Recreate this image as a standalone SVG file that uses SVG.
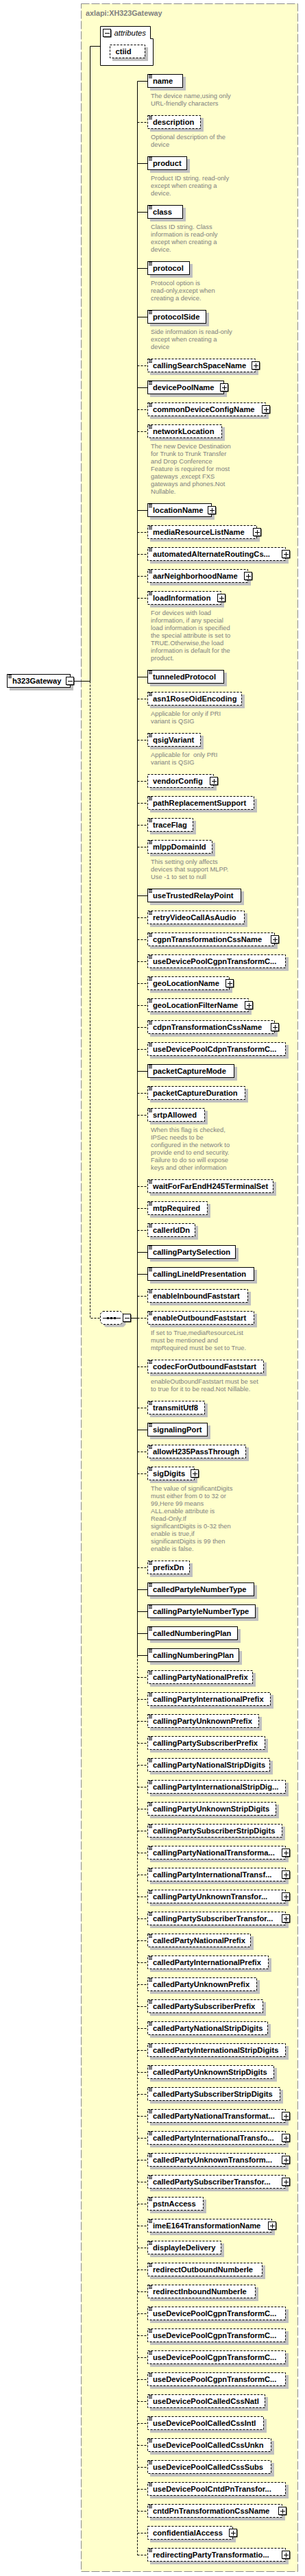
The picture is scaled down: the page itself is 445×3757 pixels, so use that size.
<svg xmlns="http://www.w3.org/2000/svg" xmlns:xlink="http://www.w3.org/1999/xlink" width="445" height="3757" viewBox="0 0 445 3757">
<style>
.s{fill:#c0c0c0}
.b{fill:#fff;stroke:#000;stroke-width:1}
.o{stroke-dasharray:3,2}
.t{font-family:"Liberation Sans",Arial,sans-serif;font-weight:bold;font-size:11.2px;fill:#000}
.d{font-family:"Liberation Sans",Arial,sans-serif;font-size:9.4px;fill:#808080}
.c{fill:none;stroke:#000;stroke-width:1}
.cd{fill:none;stroke:#000;stroke-width:1;stroke-dasharray:3,2}
</style>
<defs>
<g id="i"><path d="M2 1.5h5M2 3.5h5M2 5.5h5" stroke="#000" stroke-width="1"/></g>
<g id="p"><rect x="-4.5" y="-4.5" width="11" height="11" fill="#000"/><rect x="-5.5" y="-5.5" width="11" height="11" fill="#fff" stroke="#000"/><path d="M-3 0.5h7M0.5 -3v7" stroke="#000"/></g>
<g id="m"><rect x="-4.5" y="-4.5" width="11" height="11" fill="#000"/><rect x="-5.5" y="-5.5" width="11" height="11" fill="#fff" stroke="#000"/><path d="M-3 0.5h7" stroke="#000"/></g>
</defs>
<g id="frame">
<rect x="118.5" y="5.5" width="316" height="3745" fill="#ffffcc" stroke="#8c8c8c" stroke-width="1" stroke-dasharray="12,3"/>
<text x="125" y="22.5" font-family="Liberation Sans,Arial,sans-serif" font-weight="bold" font-size="10.8" fill="#808080">axlapi:XH323Gateway</text>
</g>
<g id="connectors">
<path class="c" d="M108 993.5H131.5M131.5 67.5V993.5M131.5 67.5H146"/>
<path class="cd" d="M131.5 993.5V1922.5H146"/>
<path class="c" d="M191 1922.5H200.5M200.5 118.5V2414.5"/>
<path class="cd" d="M200.5 2414.5V3726.5"/>
<path class="c" d="M200.5 118.5H215M200.5 238.5H215M200.5 309.5H215M200.5 391.5H215M200.5 462.5H215M200.5 565.5H215M200.5 744.5H215M200.5 987.5H215M200.5 1306.5H215M200.5 1562.5H215M200.5 1826.5H215M200.5 1858.5H215M200.5 2085.5H215M200.5 2318.5H215M200.5 2350.5H215M200.5 2382.5H215M200.5 2414.5H215"/>
<path class="cd" d="M200.5 178.5H215M200.5 533.5H215M200.5 597.5H215M200.5 629.5H215M200.5 776.5H215M200.5 808.5H215M200.5 840.5H215M200.5 872.5H215M200.5 1019.5H215M200.5 1079.5H215M200.5 1139.5H215M200.5 1171.5H215M200.5 1203.5H215M200.5 1235.5H215M200.5 1338.5H215M200.5 1370.5H215M200.5 1402.5H215M200.5 1434.5H215M200.5 1466.5H215M200.5 1498.5H215M200.5 1530.5H215M200.5 1594.5H215M200.5 1626.5H215M200.5 1730.5H215M200.5 1762.5H215M200.5 1794.5H215M200.5 1890.5H215M200.5 1922.5H215M200.5 1993.5H215M200.5 2053.5H215M200.5 2117.5H215M200.5 2149.5H215M200.5 2286.5H215M200.5 2446.5H215M200.5 2478.5H215M200.5 2510.5H215M200.5 2542.5H215M200.5 2574.5H215M200.5 2606.5H215M200.5 2638.5H215M200.5 2670.5H215M200.5 2702.5H215M200.5 2734.5H215M200.5 2766.5H215M200.5 2798.5H215M200.5 2830.5H215M200.5 2862.5H215M200.5 2894.5H215M200.5 2926.5H215M200.5 2958.5H215M200.5 2990.5H215M200.5 3022.5H215M200.5 3054.5H215M200.5 3086.5H215M200.5 3118.5H215M200.5 3150.5H215M200.5 3182.5H215M200.5 3214.5H215M200.5 3246.5H215M200.5 3278.5H215M200.5 3310.5H215M200.5 3342.5H215M200.5 3374.5H215M200.5 3406.5H215M200.5 3438.5H215M200.5 3470.5H215M200.5 3502.5H215M200.5 3534.5H215M200.5 3566.5H215M200.5 3598.5H215M200.5 3630.5H215M200.5 3662.5H215M200.5 3694.5H215M200.5 3726.5H215"/>
</g>
<g id="h323Gateway"><rect class="s" x="14" y="987" width="93" height="20"/><rect class="b" x="10.5" y="983.5" width="92" height="19"/><use href="#i" x="10" y="983"/><text class="t" x="18" y="997">h323Gateway</text><use href="#m" x="102" y="993"/></g>
<g id="attributes"><path d="M146.5 38.5H219.5V56.5H223.5V95.5H146.5Z" fill="#fff" stroke="#000"/><use href="#m" x="156" y="48"/><text x="166.5" y="51.5" font-family="Liberation Sans,Arial,sans-serif" font-style="italic" font-size="11.3" fill="#000">attributes</text>
<g id="ctiid"><rect class="s" x="164" y="69" width="52" height="20"/><rect class="b o" x="160.5" y="65.5" width="51" height="19"/><text class="t" x="168.5" y="79">ctiid</text></g></g>
<g id="sequence"><path d="M154 1916.5H180L183.5 1920V1932L180 1935.5H154L150.5 1932V1920Z" fill="#c0c0c0"/><path d="M150 1912.5H176L179.5 1916V1928L176 1931.5H150L146.5 1928V1916Z" fill="#fff" stroke="#000" stroke-dasharray="3,2"/><path d="M150 1922.5H176" stroke="#000"/><rect x="156" y="1921" width="3" height="3"/><rect x="161" y="1921" width="3" height="3"/><rect x="166" y="1921" width="3" height="3"/><use href="#m" x="185" y="1922"/></g>
<g id="n-name"><rect class="s" x="219" y="112" width="52" height="20"/><rect class="b" x="215.5" y="108.5" width="51" height="19"/><use href="#i" x="215" y="108"/><text class="t" x="223" y="122">name</text><text class="d"><tspan x="220" y="142.5">The device name,using only</tspan><tspan x="220" y="153.5">URL-friendly characters</tspan></text></g>
<g id="n-description"><rect class="s" x="219" y="172" width="78" height="20"/><rect class="b o" x="215.5" y="168.5" width="77" height="19"/><use href="#i" x="215" y="168"/><text class="t" x="223" y="182">description</text><text class="d"><tspan x="220" y="202.5">Optional description of the</tspan><tspan x="220" y="213.5">device</tspan></text></g>
<g id="n-product"><rect class="s" x="219" y="232" width="58" height="20"/><rect class="b" x="215.5" y="228.5" width="57" height="19"/><use href="#i" x="215" y="228"/><text class="t" x="223" y="242">product</text><text class="d"><tspan x="220" y="262.5">Product ID string. read-only</tspan><tspan x="220" y="273.5">except when creating a</tspan><tspan x="220" y="284.5">device.</tspan></text></g>
<g id="n-class"><rect class="s" x="219" y="303" width="52" height="20"/><rect class="b" x="215.5" y="299.5" width="51" height="19"/><use href="#i" x="215" y="299"/><text class="t" x="223" y="313">class</text><text class="d"><tspan x="220" y="333.5">Class ID string. Class</tspan><tspan x="220" y="344.5">information is read-only</tspan><tspan x="220" y="355.5">except when creating a</tspan><tspan x="220" y="366.5">device.</tspan></text></g>
<g id="n-protocol"><rect class="s" x="219" y="385" width="62" height="20"/><rect class="b" x="215.5" y="381.5" width="61" height="19"/><use href="#i" x="215" y="381"/><text class="t" x="223" y="395">protocol</text><text class="d"><tspan x="220" y="415.5">Protocol option is</tspan><tspan x="220" y="426.5">read-only,except when</tspan><tspan x="220" y="437.5">creating a device.</tspan></text></g>
<g id="n-protocolSide"><rect class="s" x="219" y="456" width="86" height="20"/><rect class="b" x="215.5" y="452.5" width="85" height="19"/><use href="#i" x="215" y="452"/><text class="t" x="223" y="466">protocolSide</text><text class="d"><tspan x="220" y="486.5">Side information is read-only</tspan><tspan x="220" y="497.5">except when creating a</tspan><tspan x="220" y="508.5">device</tspan></text></g>
<g id="n-callingSearchSpaceName"><rect class="s" x="219" y="527" width="158" height="20"/><rect class="b o" x="215.5" y="523.5" width="157" height="19"/><use href="#i" x="215" y="523"/><text class="t" x="223" y="537">callingSearchSpaceName</text><use href="#p" x="373" y="533"/></g>
<g id="n-devicePoolName"><rect class="s" x="219" y="559" width="112" height="20"/><rect class="b" x="215.5" y="555.5" width="111" height="19"/><use href="#i" x="215" y="555"/><text class="t" x="223" y="569">devicePoolName</text><use href="#p" x="327" y="565"/></g>
<g id="n-commonDeviceConfigName"><rect class="s" x="219" y="591" width="173" height="20"/><rect class="b o" x="215.5" y="587.5" width="172" height="19"/><use href="#i" x="215" y="587"/><text class="t" x="223" y="601">commonDeviceConfigName</text><use href="#p" x="388" y="597"/></g>
<g id="n-networkLocation"><rect class="s" x="219" y="623" width="109" height="20"/><rect class="b o" x="215.5" y="619.5" width="108" height="19"/><use href="#i" x="215" y="619"/><text class="t" x="223" y="633">networkLocation</text><text class="d"><tspan x="220" y="653.5">The new Device Destination</tspan><tspan x="220" y="664.5">for Trunk to Trunk Transfer</tspan><tspan x="220" y="675.5">and Drop Conference</tspan><tspan x="220" y="686.5">Feature is required for most</tspan><tspan x="220" y="697.5">gateways ,except FXS</tspan><tspan x="220" y="708.5">gateways and phones.Not</tspan><tspan x="220" y="719.5">Nullable.</tspan></text></g>
<g id="n-locationName"><rect class="s" x="219" y="738" width="94" height="20"/><rect class="b" x="215.5" y="734.5" width="93" height="19"/><use href="#i" x="215" y="734"/><text class="t" x="223" y="748">locationName</text><use href="#p" x="309" y="744"/></g>
<g id="n-mediaResourceListName"><rect class="s" x="219" y="770" width="160" height="20"/><rect class="b o" x="215.5" y="766.5" width="159" height="19"/><use href="#i" x="215" y="766"/><text class="t" x="223" y="780">mediaResourceListName</text><use href="#p" x="375" y="776"/></g>
<g id="n-automatedAlternateRoutingCs"><rect class="s" x="219" y="802" width="202" height="20"/><rect class="b o" x="215.5" y="798.5" width="201" height="19"/><use href="#i" x="215" y="798"/><text class="t" x="223" y="812">automatedAlternateRoutingCs...</text><use href="#p" x="417" y="808"/></g>
<g id="n-aarNeighborhoodName"><rect class="s" x="219" y="834" width="147" height="20"/><rect class="b o" x="215.5" y="830.5" width="146" height="19"/><use href="#i" x="215" y="830"/><text class="t" x="223" y="844">aarNeighborhoodName</text><use href="#p" x="362" y="840"/></g>
<g id="n-loadInformation"><rect class="s" x="219" y="866" width="108" height="20"/><rect class="b o" x="215.5" y="862.5" width="107" height="19"/><use href="#i" x="215" y="862"/><text class="t" x="223" y="876">loadInformation</text><use href="#p" x="323" y="872"/><text class="d"><tspan x="220" y="896.5">For devices with load</tspan><tspan x="220" y="907.5">information, if any special</tspan><tspan x="220" y="918.5">load information is specified</tspan><tspan x="220" y="929.5">the special attribute is set to</tspan><tspan x="220" y="940.5">TRUE.Otherwise,the load</tspan><tspan x="220" y="951.5">information is default for the</tspan><tspan x="220" y="962.5">product.</tspan></text></g>
<g id="n-tunneledProtocol"><rect class="s" x="219" y="981" width="112" height="20"/><rect class="b" x="215.5" y="977.5" width="111" height="19"/><use href="#i" x="215" y="977"/><text class="t" x="223" y="991">tunneledProtocol</text></g>
<g id="n-asn1RoseOidEncoding"><rect class="s" x="219" y="1013" width="138" height="20"/><rect class="b o" x="215.5" y="1009.5" width="137" height="19"/><use href="#i" x="215" y="1009"/><text class="t" x="223" y="1023">asn1RoseOidEncoding</text><text class="d"><tspan x="220" y="1043.5">Applicable for only if PRI</tspan><tspan x="220" y="1054.5">variant is QSIG</tspan></text></g>
<g id="n-qsigVariant"><rect class="s" x="219" y="1073" width="78" height="20"/><rect class="b o" x="215.5" y="1069.5" width="77" height="19"/><use href="#i" x="215" y="1069"/><text class="t" x="223" y="1083">qsigVariant</text><text class="d" style="white-space:pre"><tspan x="220" y="1103.5">Applicable for  only PRI</tspan><tspan x="220" y="1114.5">variant is QSIG</tspan></text></g>
<g id="n-vendorConfig"><rect class="s" x="219" y="1133" width="97" height="20"/><rect class="b o" x="215.5" y="1129.5" width="96" height="19"/><text class="t" x="223" y="1143">vendorConfig</text><use href="#p" x="312" y="1139"/></g>
<g id="n-pathReplacementSupport"><rect class="s" x="219" y="1165" width="156" height="20"/><rect class="b o" x="215.5" y="1161.5" width="155" height="19"/><use href="#i" x="215" y="1161"/><text class="t" x="223" y="1175">pathReplacementSupport</text></g>
<g id="n-traceFlag"><rect class="s" x="219" y="1197" width="67" height="20"/><rect class="b o" x="215.5" y="1193.5" width="66" height="19"/><use href="#i" x="215" y="1193"/><text class="t" x="223" y="1207">traceFlag</text></g>
<g id="n-mlppDomainId"><rect class="s" x="219" y="1229" width="95" height="20"/><rect class="b o" x="215.5" y="1225.5" width="94" height="19"/><use href="#i" x="215" y="1225"/><text class="t" x="223" y="1239">mlppDomainId</text><text class="d"><tspan x="220" y="1259.5">This setting only affects</tspan><tspan x="220" y="1270.5">devices that support MLPP.</tspan><tspan x="220" y="1281.5">Use -1 to set to null</tspan></text></g>
<g id="n-useTrustedRelayPoint"><rect class="s" x="219" y="1300" width="137" height="20"/><rect class="b" x="215.5" y="1296.5" width="136" height="19"/><use href="#i" x="215" y="1296"/><text class="t" x="223" y="1310">useTrustedRelayPoint</text></g>
<g id="n-retryVideoCallAsAudio"><rect class="s" x="219" y="1332" width="142" height="20"/><rect class="b o" x="215.5" y="1328.5" width="141" height="19"/><use href="#i" x="215" y="1328"/><text class="t" x="223" y="1342">retryVideoCallAsAudio</text></g>
<g id="n-cgpnTransformationCssName"><rect class="s" x="219" y="1364" width="186" height="20"/><rect class="b o" x="215.5" y="1360.5" width="185" height="19"/><use href="#i" x="215" y="1360"/><text class="t" x="223" y="1374">cgpnTransformationCssName</text><use href="#p" x="401" y="1370"/></g>
<g id="n-useDevicePoolCgpnTransformC-a"><rect class="s" x="219" y="1396" width="202" height="20"/><rect class="b o" x="215.5" y="1392.5" width="201" height="19"/><use href="#i" x="215" y="1392"/><text class="t" x="223" y="1406">useDevicePoolCgpnTransformC...</text></g>
<g id="n-geoLocationName"><rect class="s" x="219" y="1428" width="120" height="20"/><rect class="b o" x="215.5" y="1424.5" width="119" height="19"/><use href="#i" x="215" y="1424"/><text class="t" x="223" y="1438">geoLocationName</text><use href="#p" x="335" y="1434"/></g>
<g id="n-geoLocationFilterName"><rect class="s" x="219" y="1460" width="148" height="20"/><rect class="b o" x="215.5" y="1456.5" width="147" height="19"/><use href="#i" x="215" y="1456"/><text class="t" x="223" y="1470">geoLocationFilterName</text><use href="#p" x="363" y="1466"/></g>
<g id="n-cdpnTransformationCssName"><rect class="s" x="219" y="1492" width="186" height="20"/><rect class="b o" x="215.5" y="1488.5" width="185" height="19"/><use href="#i" x="215" y="1488"/><text class="t" x="223" y="1502">cdpnTransformationCssName</text><use href="#p" x="401" y="1498"/></g>
<g id="n-useDevicePoolCdpnTransformC"><rect class="s" x="219" y="1524" width="202" height="20"/><rect class="b o" x="215.5" y="1520.5" width="201" height="19"/><use href="#i" x="215" y="1520"/><text class="t" x="223" y="1534">useDevicePoolCdpnTransformC...</text></g>
<g id="n-packetCaptureMode"><rect class="s" x="219" y="1556" width="127" height="20"/><rect class="b" x="215.5" y="1552.5" width="126" height="19"/><use href="#i" x="215" y="1552"/><text class="t" x="223" y="1566">packetCaptureMode</text></g>
<g id="n-packetCaptureDuration"><rect class="s" x="219" y="1588" width="143" height="20"/><rect class="b o" x="215.5" y="1584.5" width="142" height="19"/><use href="#i" x="215" y="1584"/><text class="t" x="223" y="1598">packetCaptureDuration</text></g>
<g id="n-srtpAllowed"><rect class="s" x="219" y="1620" width="84" height="20"/><rect class="b o" x="215.5" y="1616.5" width="83" height="19"/><use href="#i" x="215" y="1616"/><text class="t" x="223" y="1630">srtpAllowed</text><text class="d"><tspan x="220" y="1650.5">When this flag is checked,</tspan><tspan x="220" y="1661.5">IPSec needs to be</tspan><tspan x="220" y="1672.5">configured in the network to</tspan><tspan x="220" y="1683.5">provide end to end security.</tspan><tspan x="220" y="1694.5">Failure to do so will expose</tspan><tspan x="220" y="1705.5">keys and other information</tspan></text></g>
<g id="n-waitForFarEndH245TerminalSet"><rect class="s" x="219" y="1724" width="184" height="20"/><rect class="b o" x="215.5" y="1720.5" width="183" height="19"/><use href="#i" x="215" y="1720"/><text class="t" x="223" y="1734">waitForFarEndH245TerminalSet</text></g>
<g id="n-mtpRequired"><rect class="s" x="219" y="1756" width="88" height="20"/><rect class="b o" x="215.5" y="1752.5" width="87" height="19"/><use href="#i" x="215" y="1752"/><text class="t" x="223" y="1766">mtpRequired</text></g>
<g id="n-callerIdDn"><rect class="s" x="219" y="1788" width="70" height="20"/><rect class="b o" x="215.5" y="1784.5" width="69" height="19"/><use href="#i" x="215" y="1784"/><text class="t" x="223" y="1798">callerIdDn</text></g>
<g id="n-callingPartySelection"><rect class="s" x="219" y="1820" width="129" height="20"/><rect class="b" x="215.5" y="1816.5" width="128" height="19"/><use href="#i" x="215" y="1816"/><text class="t" x="223" y="1830">callingPartySelection</text></g>
<g id="n-callingLineIdPresentation"><rect class="s" x="219" y="1852" width="156" height="20"/><rect class="b" x="215.5" y="1848.5" width="155" height="19"/><use href="#i" x="215" y="1848"/><text class="t" x="223" y="1862">callingLineIdPresentation</text></g>
<g id="n-enableInboundFaststart"><rect class="s" x="219" y="1884" width="147" height="20"/><rect class="b o" x="215.5" y="1880.5" width="146" height="19"/><use href="#i" x="215" y="1880"/><text class="t" x="223" y="1894">enableInboundFaststart</text></g>
<g id="n-enableOutboundFaststart"><rect class="s" x="219" y="1916" width="156" height="20"/><rect class="b o" x="215.5" y="1912.5" width="155" height="19"/><use href="#i" x="215" y="1912"/><text class="t" x="223" y="1926">enableOutboundFaststart</text><text class="d"><tspan x="220" y="1946.5">If set to True,mediaResourceList</tspan><tspan x="220" y="1957.5">must be mentioned and</tspan><tspan x="220" y="1968.5">mtpRequired must be set to True.</tspan></text></g>
<g id="n-codecForOutboundFaststart"><rect class="s" x="219" y="1987" width="170" height="20"/><rect class="b o" x="215.5" y="1983.5" width="169" height="19"/><use href="#i" x="215" y="1983"/><text class="t" x="223" y="1997">codecForOutboundFaststart</text><text class="d"><tspan x="220" y="2017.5">enableOutboundFaststart must be set</tspan><tspan x="220" y="2028.5">to true for it to be read.Not Nillable.</tspan></text></g>
<g id="n-transmitUtf8"><rect class="s" x="219" y="2047" width="84" height="20"/><rect class="b o" x="215.5" y="2043.5" width="83" height="19"/><use href="#i" x="215" y="2043"/><text class="t" x="223" y="2057">transmitUtf8</text></g>
<g id="n-signalingPort"><rect class="s" x="219" y="2079" width="88" height="20"/><rect class="b" x="215.5" y="2075.5" width="87" height="19"/><use href="#i" x="215" y="2075"/><text class="t" x="223" y="2089">signalingPort</text></g>
<g id="n-allowH235PassThrough"><rect class="s" x="219" y="2111" width="144" height="20"/><rect class="b o" x="215.5" y="2107.5" width="143" height="19"/><use href="#i" x="215" y="2107"/><text class="t" x="223" y="2121">allowH235PassThrough</text></g>
<g id="n-sigDigits"><rect class="s" x="219" y="2143" width="69" height="20"/><rect class="b o" x="215.5" y="2139.5" width="68" height="19"/><use href="#i" x="215" y="2139"/><text class="t" x="223" y="2153">sigDigits</text><use href="#p" x="284" y="2149"/><text class="d"><tspan x="220" y="2173.5">The value of significantDigits</tspan><tspan x="220" y="2184.5">must either from 0 to 32 or</tspan><tspan x="220" y="2195.5">99,Here 99 means</tspan><tspan x="220" y="2206.5">ALL.enable attribute is</tspan><tspan x="220" y="2217.5">Read-Only.If</tspan><tspan x="220" y="2228.5">significantDigits is 0-32 then</tspan><tspan x="220" y="2239.5">enable is true,if</tspan><tspan x="220" y="2250.5">significantDigits is 99 then</tspan><tspan x="220" y="2261.5">enable is false.</tspan></text></g>
<g id="n-prefixDn"><rect class="s" x="219" y="2280" width="62" height="20"/><rect class="b o" x="215.5" y="2276.5" width="61" height="19"/><use href="#i" x="215" y="2276"/><text class="t" x="223" y="2290">prefixDn</text></g>
<g id="n-calledPartyIeNumberType"><rect class="s" x="219" y="2312" width="156" height="20"/><rect class="b" x="215.5" y="2308.5" width="155" height="19"/><use href="#i" x="215" y="2308"/><text class="t" x="223" y="2322">calledPartyIeNumberType</text></g>
<g id="n-callingPartyIeNumberType"><rect class="s" x="219" y="2344" width="158" height="20"/><rect class="b" x="215.5" y="2340.5" width="157" height="19"/><use href="#i" x="215" y="2340"/><text class="t" x="223" y="2354">callingPartyIeNumberType</text></g>
<g id="n-calledNumberingPlan"><rect class="s" x="219" y="2376" width="132" height="20"/><rect class="b" x="215.5" y="2372.5" width="131" height="19"/><use href="#i" x="215" y="2372"/><text class="t" x="223" y="2386">calledNumberingPlan</text></g>
<g id="n-callingNumberingPlan"><rect class="s" x="219" y="2408" width="134" height="20"/><rect class="b" x="215.5" y="2404.5" width="133" height="19"/><use href="#i" x="215" y="2404"/><text class="t" x="223" y="2418">callingNumberingPlan</text></g>
<g id="n-callingPartyNationalPrefix"><rect class="s" x="219" y="2440" width="154" height="20"/><rect class="b o" x="215.5" y="2436.5" width="153" height="19"/><use href="#i" x="215" y="2436"/><text class="t" x="223" y="2450">callingPartyNationalPrefix</text></g>
<g id="n-callingPartyInternationalPrefix"><rect class="s" x="219" y="2472" width="180" height="20"/><rect class="b o" x="215.5" y="2468.5" width="179" height="19"/><use href="#i" x="215" y="2468"/><text class="t" x="223" y="2482">callingPartyInternationalPrefix</text></g>
<g id="n-callingPartyUnknownPrefix"><rect class="s" x="219" y="2504" width="163" height="20"/><rect class="b o" x="215.5" y="2500.5" width="162" height="19"/><use href="#i" x="215" y="2500"/><text class="t" x="223" y="2514">callingPartyUnknownPrefix</text></g>
<g id="n-callingPartySubscriberPrefix"><rect class="s" x="219" y="2536" width="172" height="20"/><rect class="b o" x="215.5" y="2532.5" width="171" height="19"/><use href="#i" x="215" y="2532"/><text class="t" x="223" y="2546">callingPartySubscriberPrefix</text></g>
<g id="n-callingPartyNationalStripDigits"><rect class="s" x="219" y="2568" width="179" height="20"/><rect class="b o" x="215.5" y="2564.5" width="178" height="19"/><use href="#i" x="215" y="2564"/><text class="t" x="223" y="2578">callingPartyNationalStripDigits</text></g>
<g id="n-callingPartyInternationalStripDig"><rect class="s" x="219" y="2600" width="202" height="20"/><rect class="b o" x="215.5" y="2596.5" width="201" height="19"/><use href="#i" x="215" y="2596"/><text class="t" x="223" y="2610">callingPartyInternationalStripDig...</text></g>
<g id="n-callingPartyUnknownStripDigits"><rect class="s" x="219" y="2632" width="188" height="20"/><rect class="b o" x="215.5" y="2628.5" width="187" height="19"/><use href="#i" x="215" y="2628"/><text class="t" x="223" y="2642">callingPartyUnknownStripDigits</text></g>
<g id="n-callingPartySubscriberStripDigits"><rect class="s" x="219" y="2664" width="197" height="20"/><rect class="b o" x="215.5" y="2660.5" width="196" height="19"/><use href="#i" x="215" y="2660"/><text class="t" x="223" y="2674">callingPartySubscriberStripDigits</text></g>
<g id="n-callingPartyNationalTransforma"><rect class="s" x="219" y="2696" width="202" height="20"/><rect class="b o" x="215.5" y="2692.5" width="201" height="19"/><use href="#i" x="215" y="2692"/><text class="t" x="223" y="2706">callingPartyNationalTransforma...</text><use href="#p" x="417" y="2702"/></g>
<g id="n-callingPartyInternationalTransf"><rect class="s" x="219" y="2728" width="202" height="20"/><rect class="b o" x="215.5" y="2724.5" width="201" height="19"/><use href="#i" x="215" y="2724"/><text class="t" x="223" y="2738">callingPartyInternationalTransf...</text><use href="#p" x="417" y="2734"/></g>
<g id="n-callingPartyUnknownTransfor"><rect class="s" x="219" y="2760" width="202" height="20"/><rect class="b o" x="215.5" y="2756.5" width="201" height="19"/><use href="#i" x="215" y="2756"/><text class="t" x="223" y="2770">callingPartyUnknownTransfor...</text><use href="#p" x="417" y="2766"/></g>
<g id="n-callingPartySubscriberTransfor"><rect class="s" x="219" y="2792" width="202" height="20"/><rect class="b o" x="215.5" y="2788.5" width="201" height="19"/><use href="#i" x="215" y="2788"/><text class="t" x="223" y="2802">callingPartySubscriberTransfor...</text><use href="#p" x="417" y="2798"/></g>
<g id="n-calledPartyNationalPrefix"><rect class="s" x="219" y="2824" width="151" height="20"/><rect class="b o" x="215.5" y="2820.5" width="150" height="19"/><use href="#i" x="215" y="2820"/><text class="t" x="223" y="2834">calledPartyNationalPrefix</text></g>
<g id="n-calledPartyInternationalPrefix"><rect class="s" x="219" y="2856" width="177" height="20"/><rect class="b o" x="215.5" y="2852.5" width="176" height="19"/><use href="#i" x="215" y="2852"/><text class="t" x="223" y="2866">calledPartyInternationalPrefix</text></g>
<g id="n-calledPartyUnknownPrefix"><rect class="s" x="219" y="2888" width="160" height="20"/><rect class="b o" x="215.5" y="2884.5" width="159" height="19"/><use href="#i" x="215" y="2884"/><text class="t" x="223" y="2898">calledPartyUnknownPrefix</text></g>
<g id="n-calledPartySubscriberPrefix"><rect class="s" x="219" y="2920" width="169" height="20"/><rect class="b o" x="215.5" y="2916.5" width="168" height="19"/><use href="#i" x="215" y="2916"/><text class="t" x="223" y="2930">calledPartySubscriberPrefix</text></g>
<g id="n-calledPartyNationalStripDigits"><rect class="s" x="219" y="2952" width="176" height="20"/><rect class="b o" x="215.5" y="2948.5" width="175" height="19"/><use href="#i" x="215" y="2948"/><text class="t" x="223" y="2962">calledPartyNationalStripDigits</text></g>
<g id="n-calledPartyInternationalStripDigits"><rect class="s" x="219" y="2984" width="202" height="20"/><rect class="b o" x="215.5" y="2980.5" width="201" height="19"/><use href="#i" x="215" y="2980"/><text class="t" x="223" y="2994">calledPartyInternationalStripDigits</text></g>
<g id="n-calledPartyUnknownStripDigits"><rect class="s" x="219" y="3016" width="185" height="20"/><rect class="b o" x="215.5" y="3012.5" width="184" height="19"/><use href="#i" x="215" y="3012"/><text class="t" x="223" y="3026">calledPartyUnknownStripDigits</text></g>
<g id="n-calledPartySubscriberStripDigits"><rect class="s" x="219" y="3048" width="194" height="20"/><rect class="b o" x="215.5" y="3044.5" width="193" height="19"/><use href="#i" x="215" y="3044"/><text class="t" x="223" y="3058">calledPartySubscriberStripDigits</text></g>
<g id="n-calledPartyNationalTransformat"><rect class="s" x="219" y="3080" width="202" height="20"/><rect class="b o" x="215.5" y="3076.5" width="201" height="19"/><use href="#i" x="215" y="3076"/><text class="t" x="223" y="3090">calledPartyNationalTransformat...</text><use href="#p" x="417" y="3086"/></g>
<g id="n-calledPartyInternationalTransfo"><rect class="s" x="219" y="3112" width="202" height="20"/><rect class="b o" x="215.5" y="3108.5" width="201" height="19"/><use href="#i" x="215" y="3108"/><text class="t" x="223" y="3122">calledPartyInternationalTransfo...</text><use href="#p" x="417" y="3118"/></g>
<g id="n-calledPartyUnknownTransform"><rect class="s" x="219" y="3144" width="202" height="20"/><rect class="b o" x="215.5" y="3140.5" width="201" height="19"/><use href="#i" x="215" y="3140"/><text class="t" x="223" y="3154">calledPartyUnknownTransform...</text><use href="#p" x="417" y="3150"/></g>
<g id="n-calledPartySubscriberTransfor"><rect class="s" x="219" y="3176" width="202" height="20"/><rect class="b o" x="215.5" y="3172.5" width="201" height="19"/><use href="#i" x="215" y="3172"/><text class="t" x="223" y="3186">calledPartySubscriberTransfor...</text><use href="#p" x="417" y="3182"/></g>
<g id="n-pstnAccess"><rect class="s" x="219" y="3208" width="82" height="20"/><rect class="b o" x="215.5" y="3204.5" width="81" height="19"/><use href="#i" x="215" y="3204"/><text class="t" x="223" y="3218">pstnAccess</text></g>
<g id="n-imeE164TransformationName"><rect class="s" x="219" y="3240" width="182" height="20"/><rect class="b o" x="215.5" y="3236.5" width="181" height="19"/><use href="#i" x="215" y="3236"/><text class="t" x="223" y="3250">imeE164TransformationName</text><use href="#p" x="397" y="3246"/></g>
<g id="n-displayIeDelivery"><rect class="s" x="219" y="3272" width="108" height="20"/><rect class="b o" x="215.5" y="3268.5" width="107" height="19"/><use href="#i" x="215" y="3268"/><text class="t" x="223" y="3282">displayIeDelivery</text></g>
<g id="n-redirectOutboundNumberIe"><rect class="s" x="219" y="3304" width="168" height="20"/><rect class="b o" x="215.5" y="3300.5" width="167" height="19"/><use href="#i" x="215" y="3300"/><text class="t" x="223" y="3314">redirectOutboundNumberIe</text></g>
<g id="n-redirectInboundNumberIe"><rect class="s" x="219" y="3336" width="158" height="20"/><rect class="b o" x="215.5" y="3332.5" width="157" height="19"/><use href="#i" x="215" y="3332"/><text class="t" x="223" y="3346">redirectInboundNumberIe</text></g>
<g id="n-useDevicePoolCgpnTransformC-b"><rect class="s" x="219" y="3368" width="202" height="20"/><rect class="b o" x="215.5" y="3364.5" width="201" height="19"/><use href="#i" x="215" y="3364"/><text class="t" x="223" y="3378">useDevicePoolCgpnTransformC...</text></g>
<g id="n-useDevicePoolCgpnTransformC-c"><rect class="s" x="219" y="3400" width="202" height="20"/><rect class="b o" x="215.5" y="3396.5" width="201" height="19"/><use href="#i" x="215" y="3396"/><text class="t" x="223" y="3410">useDevicePoolCgpnTransformC...</text></g>
<g id="n-useDevicePoolCgpnTransformC-d"><rect class="s" x="219" y="3432" width="202" height="20"/><rect class="b o" x="215.5" y="3428.5" width="201" height="19"/><use href="#i" x="215" y="3428"/><text class="t" x="223" y="3442">useDevicePoolCgpnTransformC...</text></g>
<g id="n-useDevicePoolCgpnTransformC-e"><rect class="s" x="219" y="3464" width="202" height="20"/><rect class="b o" x="215.5" y="3460.5" width="201" height="19"/><use href="#i" x="215" y="3460"/><text class="t" x="223" y="3474">useDevicePoolCgpnTransformC...</text></g>
<g id="n-useDevicePoolCalledCssNatl"><rect class="s" x="219" y="3496" width="172" height="20"/><rect class="b o" x="215.5" y="3492.5" width="171" height="19"/><use href="#i" x="215" y="3492"/><text class="t" x="223" y="3506">useDevicePoolCalledCssNatl</text></g>
<g id="n-useDevicePoolCalledCssIntl"><rect class="s" x="219" y="3528" width="170" height="20"/><rect class="b o" x="215.5" y="3524.5" width="169" height="19"/><use href="#i" x="215" y="3524"/><text class="t" x="223" y="3538">useDevicePoolCalledCssIntl</text></g>
<g id="n-useDevicePoolCalledCssUnkn"><rect class="s" x="219" y="3560" width="181" height="20"/><rect class="b o" x="215.5" y="3556.5" width="180" height="19"/><use href="#i" x="215" y="3556"/><text class="t" x="223" y="3570">useDevicePoolCalledCssUnkn</text></g>
<g id="n-useDevicePoolCalledCssSubs"><rect class="s" x="219" y="3592" width="181" height="20"/><rect class="b o" x="215.5" y="3588.5" width="180" height="19"/><use href="#i" x="215" y="3588"/><text class="t" x="223" y="3602">useDevicePoolCalledCssSubs</text></g>
<g id="n-useDevicePoolCntdPnTransfor"><rect class="s" x="219" y="3624" width="202" height="20"/><rect class="b o" x="215.5" y="3620.5" width="201" height="19"/><use href="#i" x="215" y="3620"/><text class="t" x="223" y="3634">useDevicePoolCntdPnTransfor...</text></g>
<g id="n-cntdPnTransformationCssName"><rect class="s" x="219" y="3656" width="197" height="20"/><rect class="b o" x="215.5" y="3652.5" width="196" height="19"/><use href="#i" x="215" y="3652"/><text class="t" x="223" y="3666">cntdPnTransformationCssName</text><use href="#p" x="412" y="3662"/></g>
<g id="n-confidentialAccess"><rect class="s" x="219" y="3688" width="125" height="20"/><rect class="b o" x="215.5" y="3684.5" width="124" height="19"/><text class="t" x="223" y="3698">confidentialAccess</text><use href="#p" x="340" y="3694"/></g>
<g id="n-redirectingPartyTransformatio"><rect class="s" x="219" y="3720" width="202" height="20"/><rect class="b o" x="215.5" y="3716.5" width="201" height="19"/><use href="#i" x="215" y="3716"/><text class="t" x="223" y="3730">redirectingPartyTransformatio...</text><use href="#p" x="417" y="3726"/></g>
</svg>
